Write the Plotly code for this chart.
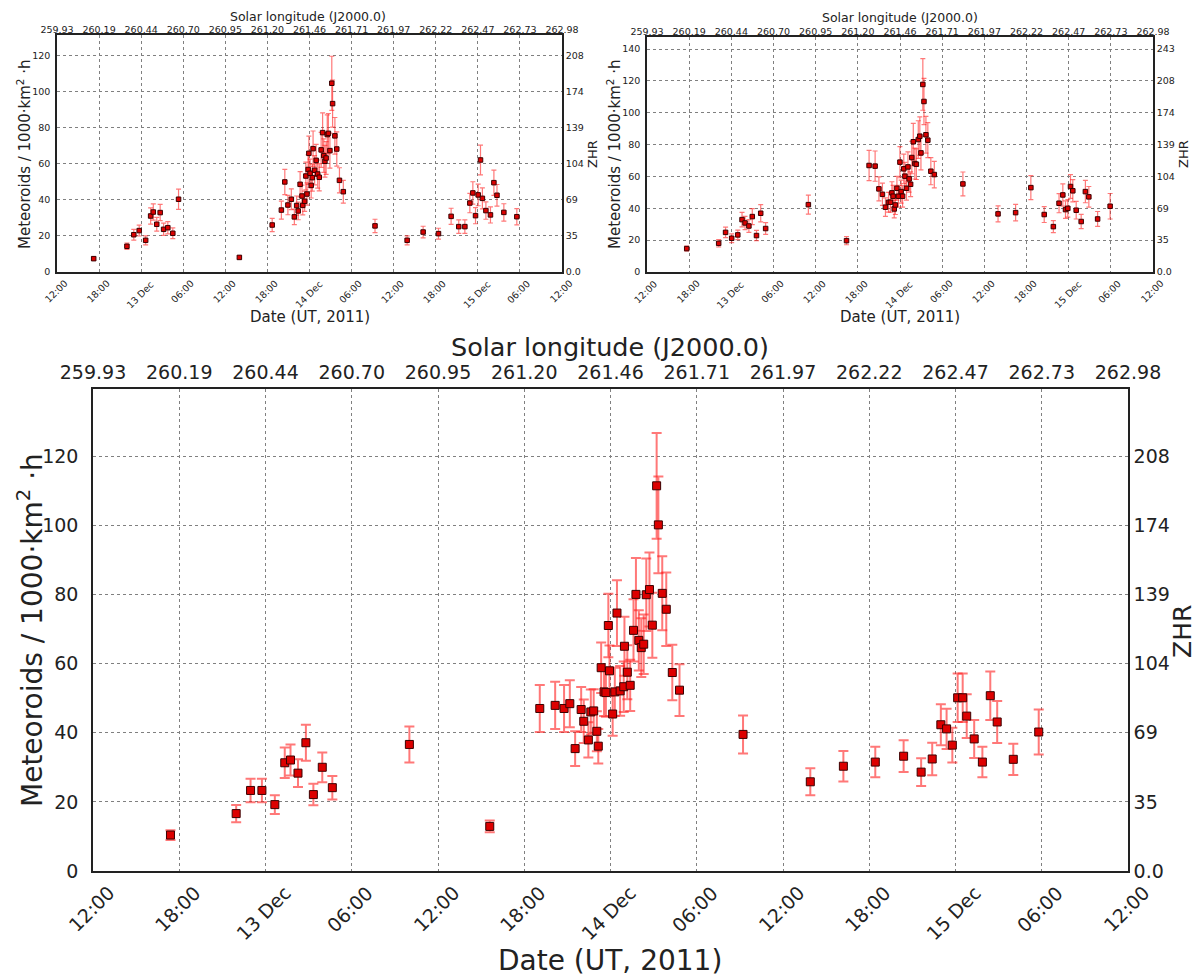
import pandas as pd
import plotly.graph_objects as go

# ---------------- data ----------------
T0 = pd.Timestamp("2011-12-12 12:00")   # hours below are counted from this time (UT)

tick_hours = [0, 6, 12, 18, 24, 30, 36, 42, 48, 54, 60, 66, 72]
date_labels = ["12:00", "18:00", "13 Dec", "06:00", "12:00", "18:00", "14 Dec",
               "06:00", "12:00", "18:00", "15 Dec", "06:00", "12:00"]
sol_labels = ["259.93", "260.19", "260.44", "260.70", "260.95", "261.20", "261.46",
              "261.71", "261.97", "262.22", "262.47", "262.73", "262.98"]
zhr_labels = ["0.0", "35", "69", "104", "139", "174", "208", "243"]

# top-left panel
p1_hours = [5.23, 9.97, 10.95, 11.72, 12.64, 13.35, 13.73, 14.22, 14.71, 15.2, 15.8, 16.51, 17.33,
            26.0, 30.68, 31.99, 32.48, 32.92, 33.41, 33.84, 34.17, 34.39, 34.66, 34.93, 35.04,
            35.31, 35.48, 35.64, 35.8, 35.91, 36.08, 36.24, 36.4, 36.51, 36.73, 36.95, 37.17,
            37.39, 37.66, 37.87, 38.04, 38.2, 38.37, 38.53, 38.69, 38.91, 39.18, 39.29, 39.62,
            39.89, 40.27, 40.82, 45.34, 49.92, 52.2, 54.39, 56.19, 57.28, 58.15, 58.86, 59.29,
            59.67, 60.05, 60.38, 60.65, 61.15, 61.8, 62.29, 62.73, 63.71, 65.56]
p1_vals = [7.4, 14.3, 20.7, 23.0, 17.6, 31.1, 33.3, 26.5, 33.0, 23.7, 24.6, 21.5, 40.4,
           8.1, 26.1, 34.4, 50.0, 37.2, 40.4, 30.6, 36.9, 33.9, 48.7, 42.2, 37.0,
           39.3, 53.3, 43.3, 56.9, 65.9, 54.8, 48.1, 52.4, 68.5, 56.5, 62.0, 54.4,
           52.6, 67.8, 77.4, 64.6, 61.5, 63.3, 76.3, 77.0, 67.4, 104.8, 93.5, 75.6,
           68.3, 50.9, 44.6, 25.6, 17.6, 22.2, 21.3, 30.9, 25.2, 25.2, 38.3, 43.9,
           31.3, 42.8, 62.2, 40.9, 34.1, 31.7, 49.6, 42.6, 33.1, 30.7]
p1_errs = [1.0, 1.8, 3.0, 3.0, 2.5, 4.5, 4.5, 3.8, 4.5, 3.4, 3.4, 3.0, 5.6,
           1.0, 3.7, 5.0, 7.0, 5.4, 5.8, 4.3, 5.3, 4.9, 7.0, 6.0, 5.3,
           5.6, 7.7, 6.2, 8.2, 9.5, 7.9, 7.0, 7.5, 9.8, 8.1, 8.9, 7.8,
           7.6, 9.7, 11.0, 9.3, 8.8, 9.1, 10.9, 11.0, 9.7, 15.0, 13.0, 10.2,
           9.5, 7.0, 6.3, 3.7, 2.5, 3.2, 3.0, 4.5, 3.7, 3.7, 5.4, 6.2,
           4.5, 6.0, 8.3, 5.8, 4.8, 4.5, 7.0, 6.0, 4.8, 4.5]

# top-right panel
p2_hours = [5.65, 10.2, 11.18, 12.05, 12.92, 13.52, 13.95, 14.5, 14.98, 15.58, 16.18, 16.88,
            22.96, 28.39, 31.6, 32.46, 33.0, 33.5, 33.93, 34.37, 34.64, 34.85, 35.02, 35.18,
            35.34, 35.56, 35.78, 35.99, 36.16, 36.37, 36.54, 36.7, 36.92, 37.13, 37.3, 37.51,
            37.68, 37.89, 38.11, 38.33, 38.6, 38.82, 38.98, 39.25, 39.41, 39.69, 39.96, 40.39,
            40.88, 44.95, 49.95, 52.45, 54.62, 56.52, 57.82, 58.63, 59.17, 59.55, 59.88, 60.26,
            60.59, 61.07, 61.78, 62.38, 62.87, 64.12, 65.9]
p2_vals = [14.7, 18.0, 24.9, 21.2, 23.3, 32.9, 30.8, 28.9, 34.8, 22.9, 36.9, 27.3,
           42.3, 19.7, 66.9, 66.5, 52.2, 48.8, 40.7, 43.8, 43.8, 49.7, 47.6, 39.6,
           42.1, 52.6, 47.6, 69.0, 50.5, 47.6, 64.8, 60.2, 52.6, 66.0, 58.5, 55.1,
           71.9, 81.8, 68.1, 67.7, 83.2, 85.3, 74.8, 117.8, 107.1, 86.2, 82.8, 63.3,
           61.2, 55.3, 36.5, 37.3, 53.0, 36.1, 28.5, 43.2, 48.4, 39.2, 40.0, 53.7,
           51.0, 38.8, 31.7, 50.5, 47.2, 33.3, 41.3]
p2_errs = [1.5, 2.3, 3.3, 2.8, 3.0, 4.5, 4.2, 4.0, 5.0, 3.2, 5.4, 3.7,
           6.0, 2.6, 9.5, 9.5, 7.5, 7.0, 5.8, 6.2, 6.2, 7.0, 6.8, 5.6,
           6.0, 7.5, 6.8, 9.8, 7.2, 6.8, 9.2, 8.6, 7.5, 9.4, 8.3, 7.8,
           10.2, 11.6, 9.7, 9.6, 11.8, 12.1, 10.6, 16.2, 14.5, 11.5, 11.0, 8.5,
           8.3, 7.5, 5.0, 5.2, 7.5, 5.0, 3.8, 6.0, 7.0, 5.5, 5.5, 7.5,
           7.0, 5.5, 4.5, 7.0, 6.5, 4.7, 8.0]

# bottom panel
p3_hours = [5.39, 9.96, 10.96, 11.75, 12.65, 13.34, 13.74, 14.26, 14.81, 15.33, 15.95, 16.65,
            22.01, 27.6, 31.08, 32.15, 32.77, 33.17, 33.54, 33.96, 34.14, 34.46, 34.63, 34.83,
            35.05, 35.15, 35.35, 35.55, 35.68, 35.85, 35.93, 36.15, 36.3, 36.45, 36.67, 36.92,
            36.97, 37.17, 37.37, 37.6, 37.77, 37.97, 38.14, 38.31, 38.49, 38.71, 38.91, 39.21,
            39.33, 39.6, 39.88, 40.3, 40.8, 45.22, 49.9, 52.2, 54.42, 56.39, 57.61, 58.38,
            58.98, 59.38, 59.78, 60.15, 60.5, 60.78, 61.3, 61.87, 62.42, 62.9, 64.02, 65.79]
p3_vals = [10.4, 16.6, 23.3, 23.3, 19.2, 31.3, 32.1, 28.3, 37.1, 22.1, 30.0, 24.1,
           36.6, 12.9, 47.0, 47.9, 47.0, 48.4, 35.4, 46.7, 43.3, 37.9, 46.0, 46.3,
           40.4, 36.1, 58.8, 51.8, 51.6, 71.0, 57.9, 45.4, 51.8, 74.6, 52.1, 53.3,
           65.0, 57.5, 53.7, 69.6, 80.0, 66.7, 64.6, 65.6, 79.9, 81.4, 71.1, 111.4,
           100.1, 80.3, 75.7, 57.4, 52.3, 39.5, 25.8, 30.3, 31.5, 33.2, 28.6, 32.4,
           42.3, 41.1, 36.4, 50.1, 50.1, 44.8, 38.2, 31.5, 50.7, 43.1, 32.3, 40.2]
p3_errs = [1.4, 2.5, 3.4, 3.4, 2.7, 4.4, 4.5, 4.0, 5.2, 3.1, 4.3, 3.4,
           5.2, 1.7, 6.8, 6.8, 6.8, 6.8, 5.0, 6.5, 6.3, 5.1, 6.5, 6.3,
           5.8, 5.0, 7.3, 7.0, 7.0, 9.2, 7.3, 6.3, 7.0, 9.5, 7.2, 7.3,
           8.5, 7.8, 7.4, 9.0, 10.5, 8.7, 8.5, 8.6, 10.5, 10.7, 9.4, 15.3,
           14.0, 10.7, 10.6, 8.0, 7.5, 5.5, 3.9, 4.4, 4.4, 4.6, 4.0, 4.7,
           5.9, 5.8, 5.0, 7.0, 7.0, 6.3, 5.5, 4.4, 7.0, 6.1, 4.5, 6.5]

# ---------------- figure ----------------
W, H = 1198, 976
FONT = "DejaVu Sans"
INK = "#222"

def to_time(hours):
    return [T0 + pd.Timedelta(hours=h) for h in hours]

tick_times = to_time(tick_hours)
tick_strs = [t.strftime("%Y-%m-%d %H:%M:%S") for t in tick_times]
x_range = [tick_strs[0], tick_strs[-1]]

panels = [
    dict(hours=p1_hours, vals=p1_vals, errs=p1_errs, px=(57, 562), py=(35, 272), ymax=131.6,
         yticks=[0, 20, 40, 60, 80, 100, 120], tick=9.5, xtick=9.5, msize=4.5, ethick=1.2, ewidth=2.5,
         ystd=3, tstd=-4, xlab_pad=5, xlab_shift=-1,
         f_top=12.5, f_bot=15, f_left=15, f_right=13,
         t_top=(308, 16), t_bot=(310, 317), t_left=(24, 154), t_right=(592, 154)),
    dict(hours=p2_hours, vals=p2_vals, errs=p2_errs, px=(647, 1153), py=(37, 272), ymax=147.6,
         yticks=[0, 20, 40, 60, 80, 100, 120, 140], tick=9.5, xtick=9.5, msize=4.5, ethick=1.2, ewidth=2.5,
         ystd=3, tstd=-4, xlab_pad=5, xlab_shift=-1,
         f_top=12.5, f_bot=15, f_left=15, f_right=13,
         t_top=(900, 18), t_bot=(900, 317), t_left=(614, 154), t_right=(1183, 154)),
    dict(hours=p3_hours, vals=p3_vals, errs=p3_errs, px=(93, 1128), py=(389, 871), ymax=139.4,
         yticks=[0, 20, 40, 60, 80, 100, 120], tick=19, xtick=19, msize=8, ethick=2, ewidth=5,
         ystd=9, tstd=1, xlab_pad=9, xlab_shift=-2,
         f_top=25.5, f_bot=28, f_left=28, f_right=25,
         t_top=(610, 347), t_bot=(610, 960), t_left=(30, 630), t_right=(1182, 632)),
]

fig = go.Figure()
layout = dict(width=W, height=H, margin=dict(l=0, r=0, t=0, b=0),
              paper_bgcolor="white", plot_bgcolor="white", showlegend=False,
              font=dict(family=FONT, color=INK))

grid = dict(showgrid=True, gridcolor="#808080", griddash="dot", gridwidth=1)
annotations = []

def add_title(text, pos, size, angle=0):
    annotations.append(dict(text=text, xref="paper", yref="paper",
                            x=pos[0] / W, y=1 - pos[1] / H, xanchor="center", yanchor="middle",
                            textangle=angle, showarrow=False,
                            font=dict(family=FONT, size=size, color=INK)))

for i, p in enumerate(panels):
    n = i + 1
    m = i + 4
    xd = [p["px"][0] / W, p["px"][1] / W]
    yd = [1 - p["py"][1] / H, 1 - p["py"][0] / H]
    xs = "" if n == 1 else str(n)
    ms = str(m)
    fig.add_trace(go.Scatter(
        x=to_time(p["hours"]), y=p["vals"], mode="markers",
        xaxis="x" + xs, yaxis="y" + xs, hoverinfo="skip",
        marker=dict(symbol="square", size=p["msize"], color="#dd0000",
                    line=dict(color="#3a0000", width=1)),
        error_y=dict(type="data", array=p["errs"], visible=True,
                     color="rgba(255,30,30,0.6)", thickness=p["ethick"], width=p["ewidth"]),
    ))
    # helper trace carrying the top (solar longitude) and right (ZHR) axes
    fig.add_trace(go.Scatter(x=[tick_strs[0]], y=[0], mode="markers",
                             marker=dict(opacity=0), xaxis="x" + ms, yaxis="y" + ms,
                             hoverinfo="skip"))
    tf = dict(family=FONT, size=p["tick"], color=INK)
    layout["xaxis" + xs] = dict(
        domain=xd, anchor="y" + xs, type="date", range=x_range,
        tickmode="array", tickvals=tick_strs, showticklabels=False,
        ticks="", showline=True, linecolor=INK, linewidth=1.5,
        zeroline=False, automargin=False, **grid)
    layout["yaxis" + xs] = dict(
        domain=yd, anchor="x" + xs, range=[0, p["ymax"]],
        tickmode="array", tickvals=p["yticks"], ticktext=[str(v) for v in p["yticks"]],
        tickfont=tf, ticks="", showline=True, linecolor=INK, linewidth=1.5,
        ticklabelstandoff=p["ystd"],
        zeroline=False, automargin=False, **grid)
    layout["xaxis" + ms] = dict(
        overlaying="x" + xs, side="top", anchor="y" + ms, type="date", range=x_range,
        tickmode="array", tickvals=tick_strs, ticktext=sol_labels, tickangle=0,
        tickfont=tf, ticks="", showline=True, linecolor=INK, linewidth=1.5,
        ticklabelstandoff=p["tstd"],
        showgrid=False, zeroline=False, automargin=False)
    layout["yaxis" + ms] = dict(
        overlaying="y" + xs, side="right", anchor="x" + ms, range=[0, p["ymax"]],
        tickmode="array", tickvals=p["yticks"], ticktext=zhr_labels[:len(p["yticks"])],
        tickfont=tf, ticks="", showline=True, linecolor=INK, linewidth=1.5,
        showgrid=False, zeroline=False, automargin=False)
    # rotated date tick labels, centred under their ticks (matplotlib style)
    for t, lab in zip(tick_strs, date_labels):
        annotations.append(dict(text=lab, xref="x" + xs, yref="paper", x=t, y=yd[0],
                                xanchor="center", yanchor="top", textangle=-45,
                                xshift=p["xlab_shift"], yshift=-p["xlab_pad"],
                                showarrow=False, borderpad=0,
                                font=dict(family=FONT, size=p["xtick"], color=INK)))
    add_title("Solar longitude (J2000.0)", p["t_top"], p["f_top"])
    add_title("Date (UT, 2011)", p["t_bot"], p["f_bot"])
    add_title("Meteoroids / 1000·km<sup>2</sup> ·h", p["t_left"], p["f_left"], -90)
    add_title("ZHR", p["t_right"], p["f_right"], -90)

layout["annotations"] = annotations
fig.update_layout(**layout)
fig.write_html("out.html", config={"displayModeBar": False},
               post_script="document.body.style.margin='0px';")
